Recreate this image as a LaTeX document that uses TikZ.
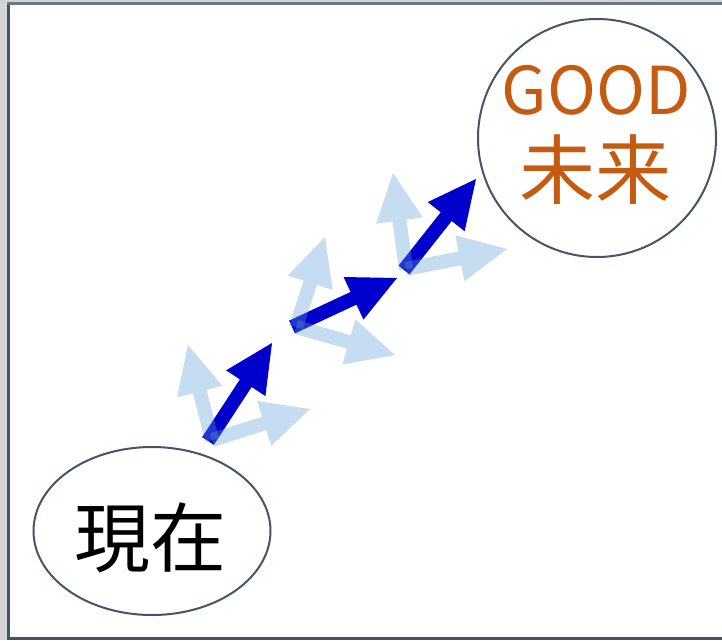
\documentclass[tikz,border=0pt]{standalone}
\usepackage{fontspec}
\newfontfamily\jpfont{Noto Sans CJK JP}
\usetikzlibrary{calc,shapes.geometric}
\definecolor{frameline}{HTML}{44546A}
\definecolor{framegray}{HTML}{D4D4D4}
\definecolor{darkarrow}{HTML}{0000CC}
\definecolor{lightarrow}{HTML}{5B9BD5}
\definecolor{goodorange}{HTML}{C55A11}
\tikzset{
  darkblk/.style={fill=darkarrow},
  lightblk/.style={fill=lightarrow, fill opacity=0.35},
  bubble/.style={draw=frameline, line width=2pt},
}
% block arrow: #1 style, #2 base coordinate, #3 tip coordinate
\newcommand{\blockarr}[3]{%
  \fill[#1]
    ($(#2)!7pt!90:(#3)$) --
    ($($(#3)!48pt!(#2)$)!7pt!-90:(#2)$) --
    ($($(#3)!48pt!(#2)$)!23.5pt!-90:(#2)$) --
    (#3) --
    ($($(#3)!48pt!(#2)$)!23.5pt!90:(#2)$) --
    ($($(#3)!48pt!(#2)$)!7pt!90:(#2)$) --
    ($(#2)!7pt!-90:(#3)$) -- cycle;}
\begin{document}
\begin{tikzpicture}[x=1pt,y=-1pt]
\useasboundingbox (0,0) rectangle (722,640);
% frame
\fill[framegray] (0,0) rectangle (7,640);
\fill[framegray] (0,0) rectangle (722,2);
\fill[frameline] (7,2) rectangle (10,640);
\fill[frameline!80] (7,2) rectangle (722,5);
\fill[frameline] (7,637) rectangle (722,640);
% ellipses
\node[bubble, ellipse, minimum width=237pt, minimum height=168pt, inner sep=0pt] (now) at (152,531) {};
\node[bubble, circle, minimum size=238pt, inner sep=0pt] (future) at (597,138) {};
\node[text=black, font=\jpfont\fontsize{76}{80}\selectfont] (nowtext) at (150,538) {現在};
\node[text=goodorange, font=\jpfont\fontsize{66}{72}\selectfont, anchor=base] (goodtext) at (596,114) {GOOD};
\node[text=goodorange, font=\jpfont\fontsize{76}{80}\selectfont] (futuretext) at (595,170) {未来};
% coordinates
\coordinate (a1) at (208,441); \coordinate (b1) at (272,343);
\coordinate (l1) at (212,440); \coordinate (u1) at (188,345); \coordinate (r1) at (310,409);
\coordinate (a2) at (292,327); \coordinate (b2) at (397,278);
\coordinate (l2) at (296,327); \coordinate (u2) at (325,237); \coordinate (r2) at (395,355);
\coordinate (a3) at (404,270); \coordinate (b3) at (476,179);
\coordinate (l3) at (406,269); \coordinate (u3) at (393,173); \coordinate (r3) at (507,249);
% arrows
\blockarr{darkblk}{a1}{b1}
\blockarr{lightblk}{l1}{u1}
\blockarr{lightblk}{l1}{r1}
\blockarr{darkblk}{a2}{b2}
\blockarr{lightblk}{l2}{u2}
\blockarr{lightblk}{l2}{r2}
\blockarr{darkblk}{a3}{b3}
\blockarr{lightblk}{l3}{u3}
\blockarr{lightblk}{l3}{r3}
\end{tikzpicture}
\end{document}
